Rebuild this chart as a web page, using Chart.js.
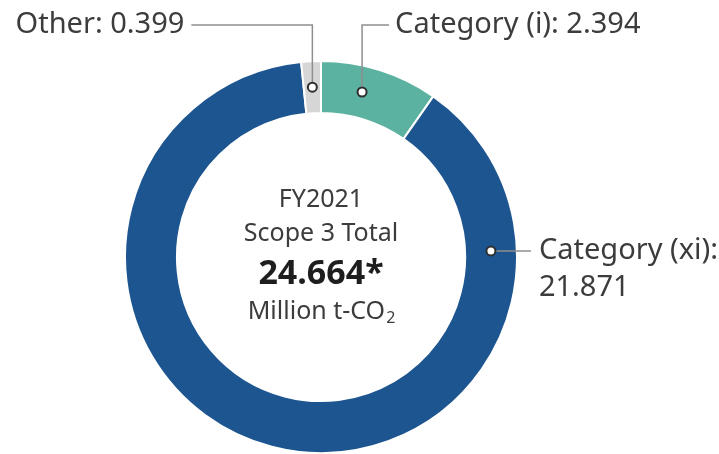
<!DOCTYPE html>
<html>
<head>
  <meta charset="utf-8">
  <title>Scope 3 FY2021</title>
  <script src="https://cdn.jsdelivr.net/npm/chart.js"></script>
  <style>html,body{margin:0;padding:0;background:#fff;}#wrap{width:719px;height:454px;}</style>
</head>
<body>
  <div id="wrap"><canvas id="chart" width="719" height="454"></canvas></div>
  <script>
    const categories = ['Category (i)', 'Category (xi)', 'Other'];
    const values = [2.394, 21.871, 0.399];
    const colors = ['#5cb2a0', '#1d5590', '#d6d6d6'];
    const totalLabel = '24.664*';
    const titleLines = ['FY2021', 'Scope 3 Total'];
    const unitLabel = ['Million t-CO', '2'];

    // where each callout dot sits along its slice (0..1) and how its leader runs
    const callouts = [
      {index: 2, at: 0.5, mode: 'up', elbowY: 25, run: -121, gap: 7},
      {index: 0, at: 0.4, mode: 'up', elbowY: 25, run: 27, gap: 6},
      {index: 1, at: 0.166, mode: 'side', run: 40, gap: 8, split: true}
    ];

    const FONT = '"Noto Sans", sans-serif';

    const calloutPlugin = {
      id: 'callouts',
      afterDatasetsDraw(chart) {
        const ctx = chart.ctx;
        const arcs = chart.getDatasetMeta(0).data;
        ctx.save();
        ctx.font = '29px ' + FONT;
        ctx.textBaseline = 'middle';
        callouts.forEach(c => {
          const p = arcs[c.index].getProps(['x', 'y', 'startAngle', 'endAngle', 'innerRadius', 'outerRadius'], true);
          const a = p.startAngle + c.at * (p.endAngle - p.startAngle);
          const r = (p.innerRadius + p.outerRadius) / 2;
          const dx = p.x + Math.cos(a) * r;
          const dy = p.y + Math.sin(a) * r;
          const txt = categories[c.index] + ':';
          const num = values[c.index].toFixed(3);

          ctx.strokeStyle = '#8e8e8e';
          ctx.lineWidth = 1.5;
          ctx.beginPath();
          ctx.moveTo(dx, dy);
          let ex, ey;
          if (c.mode === 'up') {
            ctx.lineTo(dx, c.elbowY);
            ex = dx + c.run; ey = c.elbowY;
          } else {
            ex = dx + c.run; ey = dy;
          }
          ctx.lineTo(ex, ey);
          ctx.stroke();

          ctx.fillStyle = '#3c3c3c';
          if (c.split) {
            ctx.textAlign = 'left';
            ctx.fillText(txt, ex + c.gap, ey);
            ctx.fillText(num, ex + c.gap, ey + 37);
          } else if (c.run < 0) {
            ctx.textAlign = 'right';
            ctx.fillText(txt + ' ' + num, ex - c.gap, ey);
          } else {
            ctx.textAlign = 'left';
            ctx.fillText(txt + ' ' + num, ex + c.gap, ey);
          }

          ctx.beginPath();
          ctx.arc(dx, dy, 4.5, 0, Math.PI * 2);
          ctx.fillStyle = '#fff';
          ctx.fill();
          ctx.strokeStyle = '#2e2e2e';
          ctx.lineWidth = 2;
          ctx.stroke();
        });
        ctx.restore();
      }
    };

    const centerPlugin = {
      id: 'centerText',
      afterDraw(chart) {
        const ctx = chart.ctx;
        const arc = chart.getDatasetMeta(0).data[0];
        const cx = arc.x, cy = arc.y;
        ctx.save();
        ctx.textAlign = 'center';
        ctx.textBaseline = 'middle';
        ctx.fillStyle = '#3c3c3c';
        ctx.font = '25px ' + FONT;
        ctx.fillText(titleLines[0], cx, cy - 57);
        ctx.fillText(titleLines[1], cx, cy - 23);
        ctx.fillStyle = '#1e1e1e';
        ctx.font = 'bold 34px ' + FONT;
        ctx.fillText(totalLabel, cx, cy + 17);
        // unit with a subscript 2
        ctx.fillStyle = '#3c3c3c';
        ctx.font = '25px ' + FONT;
        const w1 = ctx.measureText(unitLabel[0]).width;
        ctx.font = '16px ' + FONT;
        const w2 = ctx.measureText(unitLabel[1]).width;
        const x0 = cx - (w1 + w2) / 2;
        ctx.textAlign = 'left';
        ctx.font = '25px ' + FONT;
        ctx.fillText(unitLabel[0], x0, cy + 55);
        ctx.font = '16px ' + FONT;
        ctx.fillText(unitLabel[1], x0 + w1 + 1, cy + 61);
        ctx.restore();
      }
    };

    new Chart(document.getElementById('chart'), {
      type: 'doughnut',
      data: {
        labels: categories,
        datasets: [{
          data: values,
          backgroundColor: colors,
          borderColor: '#fff',
          borderWidth: 2,
          hoverOffset: 0
        }]
      },
      options: {
        responsive: false,
        animation: false,
        cutout: '73.5%',
        rotation: 0,
        layout: {padding: {left: 123, right: 200, top: 60, bottom: 0}},
        plugins: {legend: {display: false}, tooltip: {enabled: false}}
      },
      plugins: [calloutPlugin, centerPlugin]
    });
  </script>
</body>
</html>
